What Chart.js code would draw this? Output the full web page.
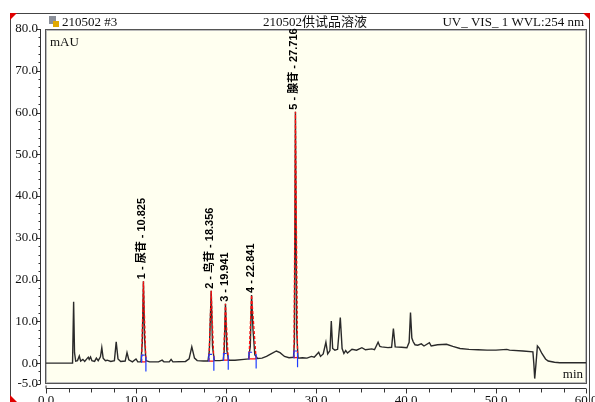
<!DOCTYPE html>
<html>
<head>
<meta charset="utf-8">
<script src="https://cdn.jsdelivr.net/npm/chart.js@4"></script>
<style>
  html, body { margin: 0; padding: 0; background: #fff; }
  #chart { display: block; }
</style>
</head>
<body>
<canvas id="chart" width="595" height="402"></canvas>
<script>
const traceTimes = [0, 2.95, 3.07, 3.17, 3.3, 3.5, 3.7, 3.85, 4.1, 4.3, 4.6, 4.7, 4.8, 4.95, 5.1, 5.4, 5.6, 5.8, 6.05, 6.2, 6.35, 6.6, 6.8, 7.2, 7.6, 7.8, 8.0, 8.3, 8.8, 9.0, 9.2, 9.6, 10.0, 10.2, 10.55, 10.7, 10.825, 10.95, 11.1, 11.5, 12.5, 12.9, 13.1, 13.7, 13.9, 14.1, 15.5, 15.9, 16.2, 16.5, 16.8, 17.5, 18.0, 18.15, 18.356, 18.5, 18.7, 19.3, 19.7, 19.8, 19.941, 20.1, 20.3, 21.0, 22.0, 22.5, 22.7, 22.841, 23.0, 23.2, 23.5, 24.0, 24.5, 25.0, 25.6, 26.0, 26.5, 27.0, 27.5, 27.6, 27.716, 27.85, 28.0, 28.5, 29.0, 29.5, 29.8, 30.0, 30.3, 30.5, 30.8, 31.1, 31.3, 31.55, 31.7, 31.85, 32.1, 32.4, 32.7, 32.9, 33.1, 33.3, 33.5, 34.0, 34.5, 35.1, 35.5, 36.2, 36.5, 36.9, 37.1, 37.3, 38.0, 38.4, 38.6, 38.8, 39.5, 40.1, 40.35, 40.5, 40.65, 40.8, 41.0, 41.3, 41.7, 42.0, 42.6, 42.8, 43.5, 44.5, 45.2, 46.0, 47.0, 48.0, 49.0, 50.0, 51.2, 51.5, 53.0, 54.1, 54.2, 54.3, 54.45, 54.6, 54.8, 55.1, 55.5, 55.8, 56.5, 57.1, 60.0];
const traceValues = [0, 0, 14.7, 2.5, 0.5, 0.6, 1.7, 0.5, 0.9, 0.4, 1.2, 1.4, 0.9, 1.5, 0.6, 0.4, 1.2, 0.6, 1.5, 3.7, 1.2, 0.6, 0.7, 0.4, 0.6, 5.1, 1.0, 0.4, 0.5, 2.5, 0.8, 0.3, 1.0, 0.3, 0.3, 5, 19.6, 6, 0.6, 0.3, 0.3, 0.7, 0.3, 0.3, 0.9, 0.3, 0.4, 1.0, 3.9, 1.2, 0.6, 0.5, 0.5, 3, 17.3, 4, 0.6, 0.6, 0.7, 3, 14.2, 3, 0.7, 0.7, 0.9, 1.0, 4, 16.3, 8, 2, 1.1, 1.2, 1.6, 2.2, 2.9, 2.5, 1.6, 1.3, 1.4, 5, 60.2, 8, 1.2, 1.3, 1.2, 1.6, 1.4, 1.9, 2.6, 1.6, 2.2, 5.0, 2.2, 3.0, 10.1, 3.5, 3.1, 3.3, 10.9, 3.5, 2.3, 3.0, 2.4, 3.3, 3.1, 3.7, 3.2, 3.4, 3.2, 5.0, 4.0, 3.9, 3.7, 3.8, 8.3, 3.9, 3.8, 3.7, 5, 12.1, 6, 5.1, 4.4, 4.3, 4.6, 4.1, 4.9, 4.1, 4.4, 4.5, 4.0, 3.5, 3.3, 3.2, 3.1, 3.1, 3.3, 3.1, 2.9, 2.7, 0, -3.7, 0, 4.1, 3.6, 2.3, 1.0, 0.5, 0.2, 0.1, 0.1];

// integrated peaks
const peakNames  = ['1 - 尿苷 - 10.825', '2 - 鸟苷 - 18.356', '3 - 19.941', '4 - 22.841', '5 - 腺苷 - 27.716'];
const peakApex   = [10.825, 18.356, 19.941, 22.841, 27.716];
const peakHeight = [19.6, 17.3, 14.2, 16.3, 60.2];
const peakStart  = [10.62, 18.1, 19.72, 22.55, 27.55];
const peakEnd    = [11.1, 18.65, 20.25, 23.35, 27.95];
const peakBase   = [0.3, 0.5, 0.7, 1.0, 1.3];

// axes
const yTicks = [-5, 0, 10, 20, 30, 40, 50, 60, 70, 80];
const yMinor = [-4, -2, 2, 4, 6, 8, 12, 14, 16, 18, 22, 24, 26, 28, 32, 34, 36, 38, 42, 44, 46, 48, 52, 54, 56, 58, 62, 64, 66, 68, 72, 74, 76, 78];
const xTicks = [0, 10, 20, 30, 40, 50, 60];
const xMinor = [2.5, 5, 7.5, 12.5, 15, 17.5, 22.5, 25, 27.5, 32.5, 35, 37.5, 42.5, 45, 47.5, 52.5, 55, 57.5];

const headerLeft = '210502 #3';
const headerMid = '210502供试品溶液';
const headerRight = 'UV_ VIS_ 1 WVL:254 nm';
const yUnit = 'mAU';
const xUnit = 'min';

const SERIF = '"Liberation Serif", "Times New Roman", "Noto Sans CJK SC", serif';

// ——— build datasets ———
const tracePts = traceTimes.map((t, i) => ({ x: t, y: traceValues[i] }));

const fitPts = [], basePts = [], startPts = [], endPts = [];
peakApex.forEach((a, i) => {
  const b = peakBase[i];
  fitPts.push({ x: peakStart[i], y: b }, { x: a, y: peakHeight[i] }, { x: peakEnd[i], y: b }, { x: peakEnd[i], y: null });
  basePts.push({ x: peakStart[i], y: b }, { x: peakEnd[i], y: b }, { x: peakEnd[i], y: null });
  startPts.push({ x: peakStart[i], y: b - 0.2 }, { x: peakStart[i], y: b + 1.6 }, { x: peakStart[i] + 0.35, y: b + 1.6 }, { x: peakStart[i], y: null });
  endPts.push({ x: peakEnd[i], y: b + 1.2 }, { x: peakEnd[i], y: b - 2.3 }, { x: peakEnd[i], y: null });
});

// ——— frame, plot box, axes and header ———
const framePlugin = {
  id: 'frame',
  beforeDraw(chart) {
    const { ctx, chartArea: a, scales: { x, y } } = chart;
    ctx.save();
    ctx.fillStyle = '#fff';
    ctx.fillRect(0, 0, chart.width, chart.height);

    // outer frame
    ctx.strokeStyle = '#444';
    ctx.lineWidth = 1;
    ctx.strokeRect(10.5, 13.5, 579, 400);
    ctx.fillStyle = '#e00000';
    [[10, 13, 1, 1], [590, 13, -1, 1], [10, 402, 1, -1]].forEach(([cx, cy, sx, sy]) => {
      ctx.beginPath();
      ctx.moveTo(cx, cy); ctx.lineTo(cx + 7 * sx, cy); ctx.lineTo(cx, cy + 7 * sy); ctx.closePath(); ctx.fill();
    });

    // plot box
    ctx.fillStyle = '#fffff0';
    ctx.fillRect(a.left - 1, a.top, a.right - a.left + 1, a.bottom - a.top);
    ctx.strokeStyle = '#555';
    ctx.strokeRect(a.left - 0.5, a.top + 0.5, a.right - a.left + 1, a.bottom - a.top - 1);
    ctx.strokeStyle = '#bbb';
    ctx.strokeRect(a.left + 0.5, a.top + 1.5, a.right - a.left - 1, a.bottom - a.top - 3);

    // y axis, offset to the left
    ctx.strokeStyle = '#333';
    const ax = a.left - 5.5;
    ctx.beginPath();
    ctx.moveTo(ax, y.getPixelForValue(80)); ctx.lineTo(ax, y.getPixelForValue(-5));
    yTicks.forEach(v => { const p = Math.round(y.getPixelForValue(v)) + 0.5; ctx.moveTo(ax, p); ctx.lineTo(ax - 4, p); });
    yMinor.forEach(v => { const p = Math.round(y.getPixelForValue(v)) + 0.5; ctx.moveTo(ax, p); ctx.lineTo(ax - 2, p); });
    ctx.stroke();

    // x axis, offset below
    const ay = a.bottom + 4.5;
    ctx.beginPath();
    ctx.moveTo(x.getPixelForValue(0), ay - 3); ctx.lineTo(x.getPixelForValue(0), ay);
    ctx.lineTo(x.getPixelForValue(60), ay);
    xTicks.forEach(v => { const p = Math.round(x.getPixelForValue(v)) + 0.5; ctx.moveTo(p, ay); ctx.lineTo(p, ay + 5); });
    xMinor.forEach(v => { const p = Math.round(x.getPixelForValue(v)) + 0.5; ctx.moveTo(p, ay); ctx.lineTo(p, ay + 4); });
    ctx.stroke();

    // header
    ctx.fillStyle = '#111';
    ctx.font = '13px ' + SERIF;
    ctx.textBaseline = 'alphabetic';
    ctx.textAlign = 'left';
    ctx.fillText(headerLeft, 62, 26);
    ctx.textAlign = 'center';
    ctx.fillText(headerMid, 315, 26);
    ctx.textAlign = 'right';
    ctx.fillText(headerRight, 584, 26);
    // little lock icon
    ctx.fillStyle = '#8a8f99';
    ctx.fillRect(49, 16, 7, 8);
    ctx.fillStyle = '#e0a800';
    ctx.fillRect(53, 21, 6, 6);

    // unit labels
    ctx.fillStyle = '#111';
    ctx.textAlign = 'left';
    ctx.fillText(yUnit, 50, 46);
    ctx.textAlign = 'right';
    ctx.fillText(xUnit, 583, 378);
    ctx.restore();
  }
};

// ——— peak labels (rotated, bottom to top) ———
const peakLabelPlugin = {
  id: 'peakLabels',
  afterDatasetsDraw(chart) {
    const { ctx, scales: { x, y } } = chart;
    ctx.save();
    ctx.fillStyle = '#000';
    ctx.font = 'bold 11px "Liberation Sans", Arial, "Noto Sans CJK SC", sans-serif';
    ctx.textAlign = 'left';
    ctx.textBaseline = 'middle';
    peakNames.forEach((name, i) => {
      ctx.save();
      ctx.translate(x.getPixelForValue(peakApex[i]) - 1, y.getPixelForValue(peakHeight[i]) - 2);
      ctx.rotate(-Math.PI / 2);
      ctx.fillText(name, 0, 0);
      ctx.restore();
    });
    ctx.restore();
  }
};

const ctx = document.getElementById('chart').getContext('2d');
new Chart(ctx, {
  type: 'line',
  data: {
    datasets: [
      { data: startPts, borderColor: '#1f3cff', borderWidth: 1.2, pointRadius: 0, spanGaps: false, order: 1 },
      { data: endPts, borderColor: '#1f3cff', borderWidth: 1.2, pointRadius: 0, spanGaps: false, order: 1 },
      { data: fitPts, borderColor: '#ff1010', borderWidth: 1.3, borderDash: [3, 2], pointRadius: 0, spanGaps: false, order: 2 },
      { data: basePts, borderColor: '#ff1010', borderWidth: 1.2, pointRadius: 0, spanGaps: false, order: 2 },
      { data: tracePts, borderColor: '#2a2a2a', borderWidth: 1.4, pointRadius: 0, tension: 0, order: 5 }
    ]
  },
  options: {
    responsive: false,
    animation: false,
    events: [],
    layout: { padding: { top: 29, right: 9, left: 0, bottom: 0 } },
    plugins: { legend: { display: false }, tooltip: { enabled: false } },
    scales: {
      x: {
        type: 'linear', min: 0, max: 60,
        grid: { display: false, drawTicks: false },
        border: { display: false },
        ticks: { stepSize: 10, padding: 9, color: '#111', font: { family: SERIF, size: 13 }, callback: v => v.toFixed(1), maxRotation: 0 },
        afterBuildTicks(s) { s.ticks = xTicks.map(v => ({ value: v })); },
        afterFit(s) { s.height = 18; s.paddingLeft = 0; s.paddingRight = 0; }
      },
      y: {
        type: 'linear', min: -5, max: 80,
        grid: { display: false, drawTicks: false },
        border: { display: false },
        ticks: { padding: 8, color: '#111', font: { family: SERIF, size: 13 }, callback: v => v.toFixed(1) },
        afterBuildTicks(s) { s.ticks = yTicks.map(v => ({ value: v })); },
        afterFit(s) { s.width = 46; s.paddingTop = 0; s.paddingBottom = 0; }
      }
    }
  },
  plugins: [framePlugin, peakLabelPlugin]
});
</script>
</body>
</html>
